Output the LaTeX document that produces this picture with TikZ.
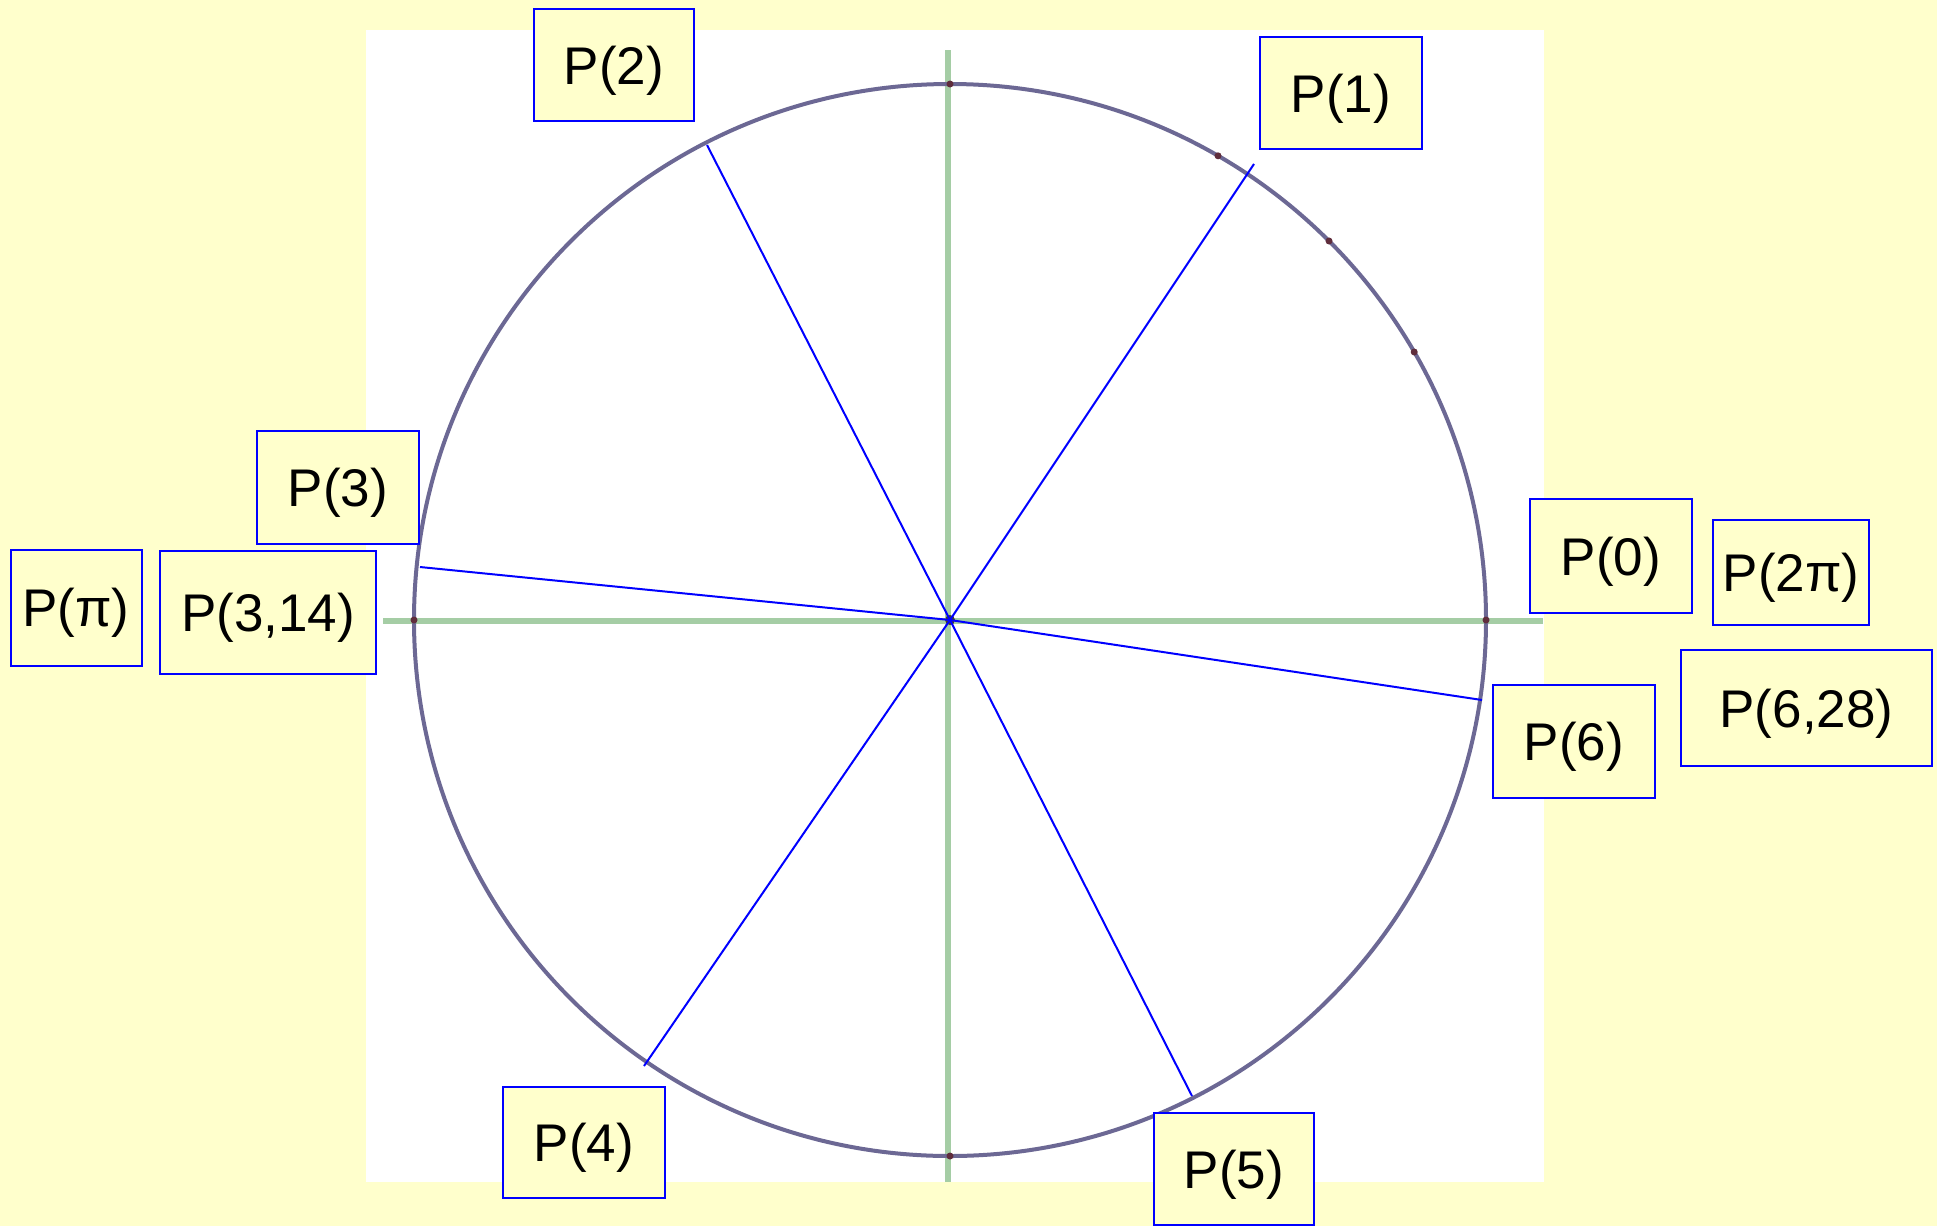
\documentclass[tikz,border=0pt]{standalone}
\usepackage{fontspec}
\setmainfont{Liberation Sans}
\usetikzlibrary{calc}
\definecolor{bgyellow}{RGB}{255,255,204}
\definecolor{boxblue}{RGB}{0,0,255}
\definecolor{axisgreen}{RGB}{165,205,165}
\definecolor{circgray}{RGB}{108,104,148}
\definecolor{tickdot}{RGB}{95,45,60}
\begin{document}
\begin{tikzpicture}[x=1pt,y=-1pt,
  lbl/.style={draw=boxblue, line width=2pt, fill=bgyellow, rectangle, inner sep=0pt,
              text depth=0pt, font=\fontsize{53}{62}\selectfont},
  ray/.style={draw=boxblue, line width=2pt},
  axisline/.style={draw=axisgreen, line width=5.5pt},
  circline/.style={draw=circgray, line width=4pt},
  tick/.style={fill=tickdot, draw=none}]
\useasboundingbox (0,0) rectangle (1937,1226);
\fill[bgyellow] (0,0) rectangle (1937,1226);
\fill[white] (366,30) rectangle (1544,1182);
\coordinate (O) at (950,620);
% axes
\coordinate (xl) at (383,621);
\coordinate (xr) at (1543,621);
\coordinate (yt) at (948,50);
\coordinate (yb) at (948,1182);
\draw[axisline] (xl) -- (xr);
\draw[axisline] (yt) -- (yb);
% circle
\draw[circline] (O) circle [radius=536];
% tick dots
\foreach \a in {0,30,45,60,90,180,270}
  \fill[tick] ($(O)+(\a:536 and -536)$) circle [radius=3.5];
\fill[black!70!olive] (O) circle [radius=5];
% ray endpoints
\coordinate (p1) at (1254,164);
\coordinate (p2) at (707,145);
\coordinate (p3) at (420,567);
\coordinate (p4) at (644,1066);
\coordinate (p5) at (1192,1096);
\coordinate (p6) at (1482,700);
\foreach \p in {p1,p2,p3,p4,p5,p6}
  \draw[ray] (O) -- (\p);
% labels
\node[lbl, minimum width=160, minimum height=112] (n2) at (614,65) {P(2)};
\node[lbl, minimum width=162, minimum height=112] (n1) at (1341,93) {P(1)};
\node[lbl, minimum width=162, minimum height=113] (n3) at (338,487.5) {P(3)};
\node[lbl, minimum width=131, minimum height=116] (npi) at (76,607.5) {P(π)};
\node[lbl, minimum width=216, minimum height=123] (n314) at (268,612.5) {P(3,14)};
\node[lbl, minimum width=162, minimum height=114] (n0) at (1611,556) {P(0)};
\node[lbl, minimum width=156, minimum height=105] (n2pi) at (1791,572.5) {P(2π)};
\node[lbl, minimum width=162, minimum height=113] (n6) at (1574,741.5) {P(6)};
\node[lbl, minimum width=251, minimum height=116] (n628) at (1806.5,708) {P(6,28)};
\node[lbl, minimum width=162, minimum height=111] (n4) at (584,1142.5) {P(4)};
\node[lbl, minimum width=160, minimum height=112] (n5) at (1234,1169) {P(5)};
\end{tikzpicture}
\end{document}
